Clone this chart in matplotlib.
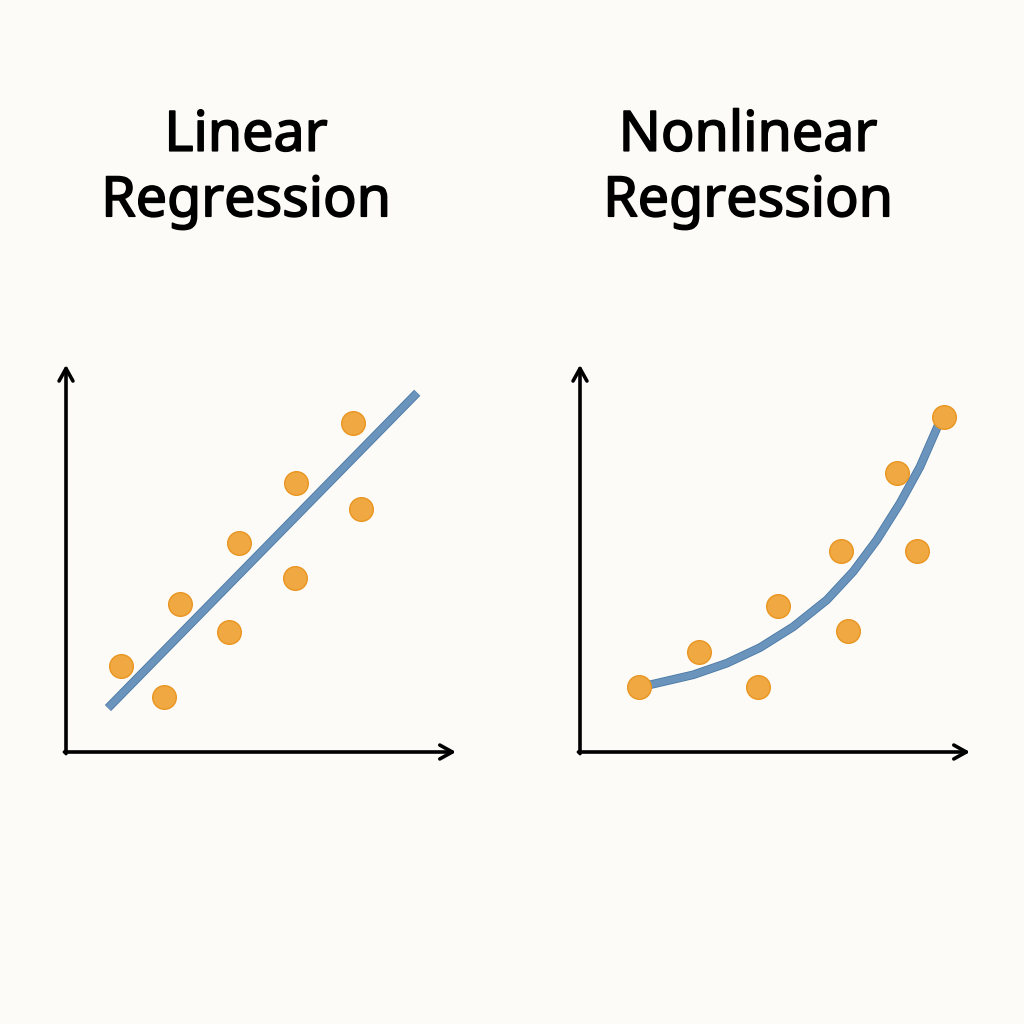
import numpy as np
import matplotlib
matplotlib.use("Agg")
import matplotlib.pyplot as plt
import matplotlib.patheffects as pe

# données (unités arbitraires, 0..10)
lin_x = [1.38, 2.45, 2.85, 4.08, 4.33, 5.73, 5.75, 7.18, 7.38]
lin_y = [2.15, 1.38, 3.70, 3.00, 5.23, 4.35, 6.73, 8.23, 6.08]
lin_fit_x = [1.05, 8.78]
lin_fit_y = [1.10, 8.98]

nl_x = [1.48, 2.98, 4.45, 4.95, 6.53, 6.70, 7.93, 8.43, 9.10]
nl_y = [1.63, 2.50, 1.63, 3.65, 5.03, 3.03, 6.98, 5.03, 8.38]
nl_fit_x = [1.48, 1.75, 2.83, 3.67, 4.50, 5.33, 6.17, 6.83, 7.42, 8.00, 8.50, 8.92, 9.05]
nl_fit_y = [1.63, 1.68, 1.93, 2.22, 2.61, 3.13, 3.80, 4.51, 5.30, 6.22, 7.13, 8.09, 8.40]

titles = ["Linear\nRegression", "Nonlinear\nRegression"]

bg = "#fcfbf7"
orange = "#f0a843"
orange_edge = "#e9951f"
blue = "#6a94bb"
blue_edge = "#4a78a6"

fig = plt.figure(figsize=(10.24, 10.24), dpi=100, facecolor=bg)

def panel(left_px, xs, ys, fx, fy, title, title_x):
    ax = fig.add_axes([left_px / 1024, (1024 - 752) / 1024, 400 / 1024, 400 / 1024])
    ax.set_xlim(0, 10)
    ax.set_ylim(0, 10)
    ax.axis("off")
    ax.patch.set_alpha(0)
    # axes avec flèches
    style = "->,head_length=0.9,head_width=0.5"
    ax.annotate("", xy=(9.75, 0), xytext=(-0.04, 0),
                arrowprops=dict(arrowstyle=style, lw=2.6, color="black", shrinkA=0, shrinkB=0),
                annotation_clip=False)
    ax.annotate("", xy=(0, 9.68), xytext=(0, -0.04),
                arrowprops=dict(arrowstyle=style, lw=2.6, color="black", shrinkA=0, shrinkB=0),
                annotation_clip=False)
    ax.plot(fx, fy, color=blue, lw=5, solid_capstyle="butt", solid_joinstyle="round",
            path_effects=[pe.Stroke(linewidth=6.2, foreground=blue_edge), pe.Normal()], zorder=2)
    ax.plot(xs, ys, "o", ms=17, color=orange, mec=orange_edge, mew=1, zorder=3)
    fig.text(title_x / 1024, 1 - 169 / 1024, title, ha="center", va="center",
             fontsize=40, family="Noto Sans", linespacing=1.25,
             path_effects=[pe.withStroke(linewidth=1.2, foreground="black")])
    return ax

panel(66, lin_x, lin_y, lin_fit_x, lin_fit_y, titles[0], 246)
panel(580, nl_x, nl_y, nl_fit_x, nl_fit_y, titles[1], 748)

fig.savefig("out.png", dpi=100, facecolor=bg)
